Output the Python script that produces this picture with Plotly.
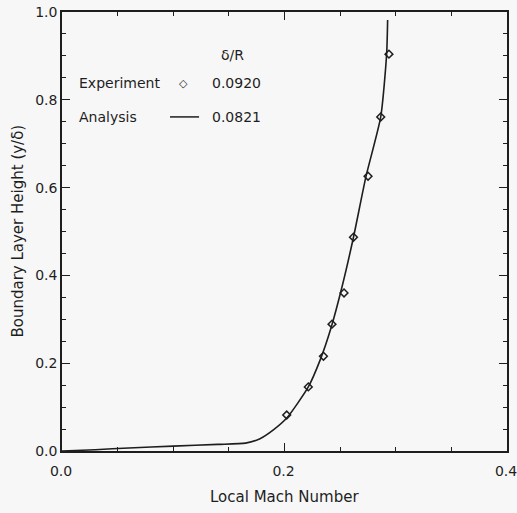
import plotly.graph_objects as go

# Experiment (open diamonds), delta/R = 0.0920
exp_mach = [0.202, 0.2214, 0.235, 0.2427, 0.2535, 0.262, 0.2751, 0.2865, 0.2939]
exp_height = [0.082, 0.146, 0.216, 0.289, 0.360, 0.487, 0.626, 0.761, 0.904]

# Analysis (solid line), delta/R = 0.0821
ana_mach = [0.0, 0.03, 0.06, 0.10, 0.14, 0.165, 0.178, 0.19, 0.202, 0.2214,
            0.232, 0.242, 0.252, 0.262, 0.2733, 0.2865, 0.2918, 0.2927]
ana_height = [0.0, 0.003, 0.007, 0.011, 0.015, 0.018, 0.028, 0.048, 0.075, 0.146,
              0.207, 0.282, 0.377, 0.487, 0.626, 0.761, 0.904, 0.982]

x_ticks = [0.0, 0.2, 0.4]
y_ticks = [0.0, 0.2, 0.4, 0.6, 0.8, 1.0]

FONT = "DejaVu Sans"
INK = "#1e1e1e"
BG = "#f7f7f7"

fig = go.Figure()
fig.add_trace(go.Scatter(x=ana_mach, y=ana_height, mode="lines",
                         line=dict(color=INK, width=1.6, shape="spline", smoothing=0.6),
                         showlegend=False, hoverinfo="skip"))
fig.add_trace(go.Scatter(x=exp_mach, y=exp_height, mode="markers",
                         marker=dict(symbol="diamond-open", size=6, color=INK,
                                     line=dict(width=1.5, color=INK)),
                         showlegend=False, hoverinfo="skip"))

axis_common = dict(showgrid=False, zeroline=False, showline=True, linecolor=INK,
                   linewidth=1.5, mirror="ticks", ticks="inside", ticklen=8,
                   tickwidth=1.3, tickcolor=INK, automargin=False,
                   ticklabeloverflow="allow",
                   tickfont=dict(family=FONT, size=14, color=INK))

fig.update_xaxes(range=[0, 0.4], tickvals=x_ticks,
                 ticktext=[f"{v:.1f}" for v in x_ticks],
                 minor=dict(ticks="inside", dtick=0.05, ticklen=4, tickcolor=INK, tickwidth=1.2),
                 ticklabelstandoff=6, ticklabelshift=-1,
                 **axis_common)
fig.update_yaxes(range=[0, 1.0], tickvals=y_ticks,
                 ticktext=[f"{v:.1f}" for v in y_ticks],
                 minor=dict(ticks="inside", dtick=0.05, ticklen=4, tickcolor=INK, tickwidth=1.2),
                 ticklabelstandoff=0,
                 **axis_common)

# axis titles
fig.add_annotation(xref="paper", yref="paper", x=0.5, y=-0.1048, text="Local Mach Number",
                   showarrow=False, xanchor="center", yanchor="middle",
                   font=dict(family=FONT, size=15, color=INK))
fig.add_annotation(xref="paper", yref="paper", x=-0.099, y=0.502, text="Boundary Layer Height (y/δ)",
                   showarrow=False, xanchor="center", yanchor="middle", textangle=-90,
                   font=dict(family=FONT, size=15, color=INK))

ann_font = dict(family=FONT, size=14, color=INK)
anns = [
    dict(x=0.384, y=0.902, text="δ/R", xanchor="center"),
    dict(x=0.0337, y=0.838, text="Experiment", xanchor="left"),
    dict(x=0.3326, y=0.838, text="0.0920", xanchor="left"),
    dict(x=0.0337, y=0.761, text="Analysis", xanchor="left"),
    dict(x=0.3326, y=0.761, text="0.0821", xanchor="left"),
]
for a in anns:
    fig.add_annotation(xref="paper", yref="paper", yanchor="middle", showarrow=False,
                       font=ann_font, **a)
# legend samples
fig.add_annotation(xref="paper", yref="paper", x=0.272, y=0.838, text="◇", showarrow=False,
                   font=dict(family=FONT, size=11, color=INK), xanchor="center", yanchor="middle")
fig.add_shape(type="line", xref="paper", yref="paper", x0=0.2427, x1=0.308, y0=0.761, y1=0.761,
              line=dict(color=INK, width=1.5))

fig.update_layout(width=517, height=513, paper_bgcolor=BG, plot_bgcolor=BG,
                  margin=dict(l=62, r=10, t=12, b=62), showlegend=False)

fig.write_html("out.html", config={"displayModeBar": False},
               post_script="document.body.style.margin='0px';document.body.style.background='%s';" % BG)
